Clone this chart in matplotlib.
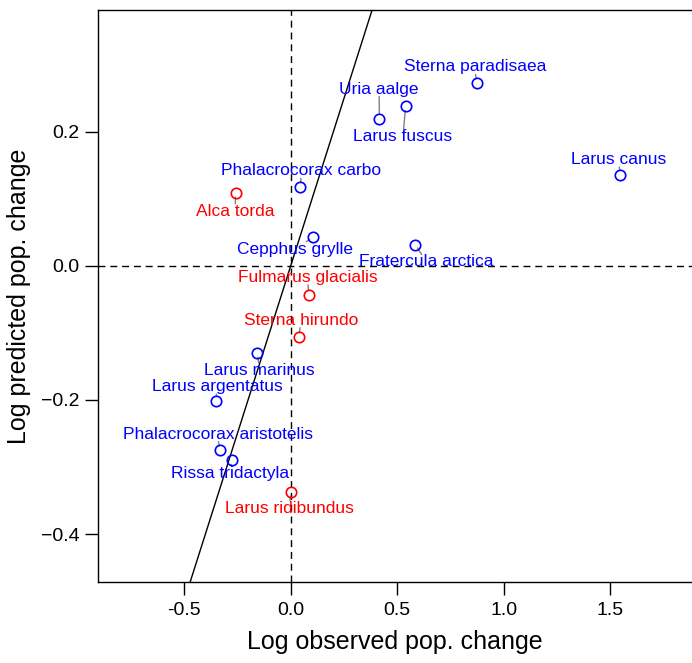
import matplotlib
matplotlib.use("Agg")
import matplotlib.pyplot as plt

plt.rcParams['font.family'] = ['Liberation Sans', 'DejaVu Sans']

# species, observed / predicted log change, label position, colour
species = ["Sterna paradisaea", "Uria aalge", "Larus fuscus", "Larus canus",
           "Phalacrocorax carbo", "Alca torda", "Cepphus grylle",
           "Fratercula arctica", "Fulmarus glacialis", "Sterna hirundo",
           "Larus marinus", "Larus argentatus", "Phalacrocorax aristotelis",
           "Rissa tridactyla", "Larus ridibundus"]
observed = [0.872, 0.416, 0.539, 1.546, 0.046, -0.258, 0.105, 0.584,
            0.085, 0.038, -0.156, -0.352, -0.333, -0.276, 0.000]
predicted = [0.273, 0.220, 0.238, 0.136, 0.118, 0.109, 0.043, 0.032,
             -0.043, -0.106, -0.130, -0.201, -0.275, -0.290, -0.337]
label_x = [0.864, 0.415, 0.527, 1.538, 0.050, -0.261, 0.021, 0.638,
           0.079, 0.049, -0.146, -0.343, -0.343, -0.286, -0.005]
label_y = [0.297, 0.264, 0.193, 0.159, 0.142, 0.082, 0.025, 0.006,
           -0.017, -0.081, -0.156, -0.180, -0.251, -0.309, -0.362]
colours = ["blue", "blue", "blue", "blue", "blue", "red", "blue", "blue",
           "red", "red", "blue", "blue", "blue", "blue", "red"]

fig = plt.figure(figsize=(6.92, 6.63), dpi=100)
ax = fig.add_axes([98 / 692, 1 - 582 / 663, 1 - 98 / 692, 572 / 663])

ax.axhline(0, color="black", lw=1, ls=(0, (5, 3.5)), zorder=1)
ax.axvline(0, color="black", lw=1, ls=(0, (5, 3.5)), zorder=1)
ax.axline((0, 0), slope=1, color="black", lw=1, zorder=1)

for name, x, y, lx, ly, c in zip(species, observed, predicted, label_x, label_y, colours):
    # invisible zero-pad box so the leader line stops right at the text
    ax.annotate(name, xy=(x, y), xytext=(lx, ly), ha="center", va="center",
                color=c, fontsize=12.5, zorder=3,
                bbox=dict(boxstyle="square,pad=0", fc="none", ec="none"),
                arrowprops=dict(arrowstyle="-", color="gray", lw=1,
                                shrinkA=0, shrinkB=3))
    ax.plot(x, y, "o", mfc="none", mec=c, ms=7.5, mew=1.2, zorder=4)

ax.set_xlim(-0.904, 1.883)
ax.set_ylim(-0.4716, 0.382)
ax.set_xticks([-0.5, 0.0, 0.5, 1.0, 1.5])
ax.set_xticklabels(["-0.5", "0.0", "0.5", "1.0", "1.5"])
ax.set_yticks([-0.4, -0.2, 0.0, 0.2])
ax.set_yticklabels(["\u22120.4", "\u22120.2", "0.0", "0.2"])
ax.tick_params(length=9.5, width=1, labelsize=14, direction="out")
ax.tick_params(axis="x", pad=5)
ax.tick_params(axis="y", pad=4)
ax.spines["right"].set_visible(False)
for s in ["left", "top", "bottom"]:
    ax.spines[s].set_linewidth(1)

ax.set_xlabel("Log observed pop. change", fontsize=18, labelpad=8)
ax.set_ylabel("Log predicted pop. change", fontsize=18, labelpad=7)

fig.savefig("out.png", dpi=100)
